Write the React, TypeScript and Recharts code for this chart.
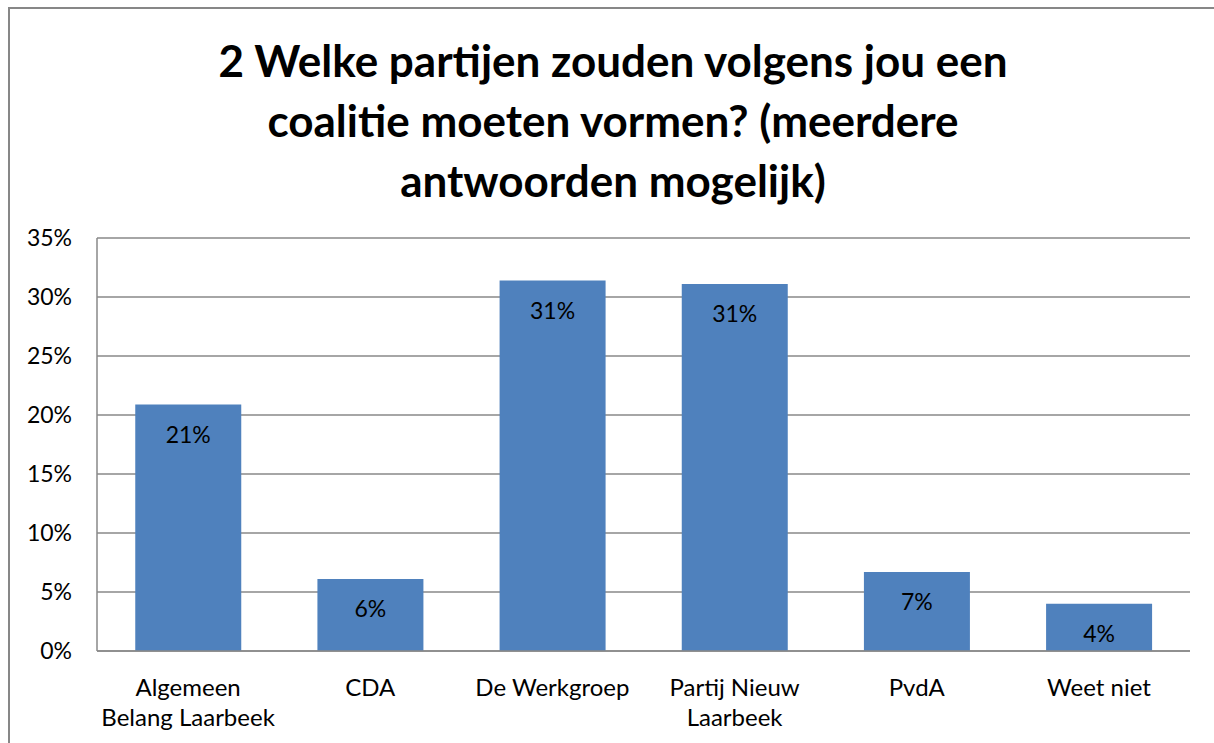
import React from 'react';
import { BarChart, Bar, XAxis, YAxis, CartesianGrid, LabelList } from 'recharts';

const parties = [
  'Algemeen\nBelang Laarbeek',
  'CDA',
  'De Werkgroep',
  'Partij Nieuw\nLaarbeek',
  'PvdA',
  'Weet niet',
];
const shares = [0.209, 0.061, 0.314, 0.311, 0.067, 0.04];
const yTicks = [0, 0.05, 0.1, 0.15, 0.2, 0.25, 0.3, 0.35];

const data = parties.map((name, i) => ({ name, value: shares[i] }));

const FONT = 'Lato, "Open Sans", sans-serif';
const pct = (v: number) => `${Math.round(v * 100)}%`;

const PartyTick = (props: any) => {
  const { x, y, payload } = props;
  const lines = String(payload.value).split('\n');
  return (
    <g transform={`translate(${x},${y})`}>
      {lines.map((line, i) => (
        <text
          key={i}
          x={0}
          y={27 + i * 30}
          textAnchor="middle"
          dominantBaseline="central"
          fontSize={24}
          fontFamily={FONT}
          fill="#000"
        >
          {line}
        </text>
      ))}
    </g>
  );
};

export default function App() {
  return (
    <div style={{ position: 'absolute', left: 0, top: 0, width: 1214, height: 743, overflow: 'hidden', background: '#fff' }}>
      <div
        style={{
          position: 'absolute',
          left: 8,
          top: 7,
          width: 1400,
          height: 900,
          borderTop: '2px solid #878787',
          borderLeft: '2px solid #878787',
        }}
      />
      <div
        style={{
          position: 'absolute',
          left: 0,
          top: 30,
          width: 1226,
          textAlign: 'center',
          fontFamily: FONT,
          fontWeight: 700,
          fontSize: 44,
          lineHeight: '60px',
          color: '#000',
        }}
      >
        2 Welke partijen zouden volgens jou een
        <br />
        coalitie moeten vormen? (meerdere
        <br />
        antwoorden mogelijk)
      </div>
      <div style={{ position: 'absolute', left: 0, top: 0 }}>
        <BarChart
          width={1214}
          height={743}
          data={data}
          margin={{ top: 238, right: 24, bottom: 12, left: 8 }}
          barCategoryGap="21%"
        >
          <CartesianGrid vertical={false} stroke="#888" strokeWidth={1.5} />
          <XAxis
            dataKey="name"
            interval={0}
            height={80}
            tick={<PartyTick />}
            tickLine={false}
            axisLine={{ stroke: '#888', strokeWidth: 1.5 }}
          />
          <YAxis
            width={89}
            domain={[0, 0.35]}
            ticks={yTicks}
            tickFormatter={pct}
            tickLine={false}
            tickMargin={19}
            axisLine={{ stroke: '#888', strokeWidth: 1.5 }}
            tick={{ fontSize: 23, fontFamily: FONT, fill: '#000' }}
          />
          <Bar dataKey="value" fill="#4F81BD" isAnimationActive={false}>
            <LabelList
              dataKey="value"
              position="insideTop"
              offset={22}
              formatter={(v: any) => pct(Number(v))}
              style={{ fontSize: 23, fontFamily: FONT, fill: '#000' }}
            />
          </Bar>
        </BarChart>
      </div>
    </div>
  );
}
